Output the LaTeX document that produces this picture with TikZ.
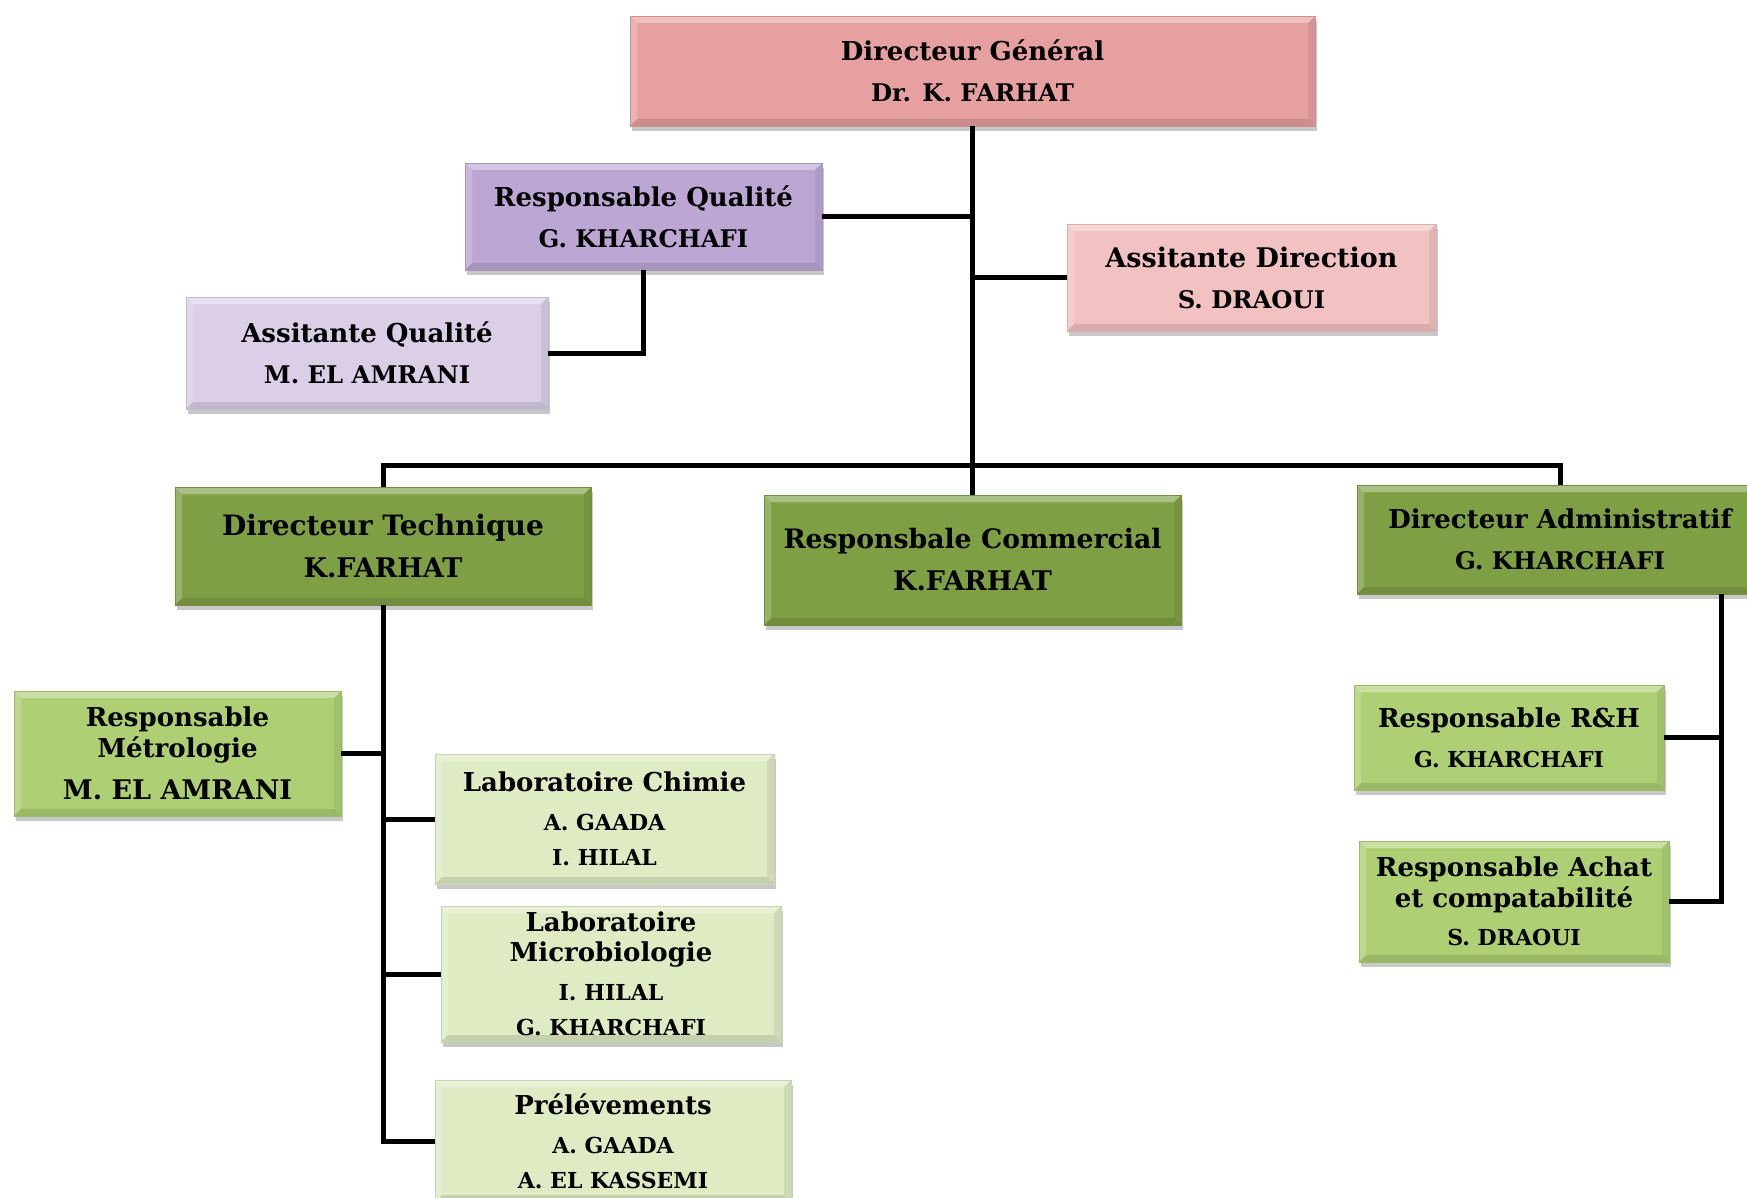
\documentclass[tikz,border=0pt]{standalone}
\usepackage{fontspec}
\setmainfont{DejaVu Serif}
\usetikzlibrary{shadows}
\definecolor{cDG}{HTML}{E5A09F}
\definecolor{cRQ}{HTML}{BCA7D4}
\definecolor{cAQ}{HTML}{DACFE7}
\definecolor{cAD}{HTML}{F2C2C2}
\definecolor{cDk}{HTML}{7F9F45}
\definecolor{cMd}{HTML}{AECF73}
\definecolor{cPl}{HTML}{DEEBC3}
\newcommand\fs[1]{\fontsize{#1}{35}\selectfont}
\tikzset{
  bevel/.style={path picture={
    \fill[white,opacity=.35] (path picture bounding box.north west) -- (path picture bounding box.north east) -- ([shift={(-7pt,-7pt)}]path picture bounding box.north east) -- ([shift={(7pt,-7pt)}]path picture bounding box.north west) -- cycle;
    \fill[white,opacity=.2] (path picture bounding box.north west) -- ([shift={(7pt,-7pt)}]path picture bounding box.north west) -- ([shift={(7pt,7pt)}]path picture bounding box.south west) -- (path picture bounding box.south west) -- cycle;
    \fill[black,opacity=.11] (path picture bounding box.south west) -- (path picture bounding box.south east) -- ([shift={(-7pt,7pt)}]path picture bounding box.south east) -- ([shift={(7pt,7pt)}]path picture bounding box.south west) -- cycle;
    \fill[black,opacity=.07] (path picture bounding box.north east) -- (path picture bounding box.south east) -- ([shift={(-7pt,7pt)}]path picture bounding box.south east) -- ([shift={(-7pt,-7pt)}]path picture bounding box.north east) -- cycle;
  }},
  box/.style={rectangle, draw=#1!90!black, line width=0.5pt, fill=#1, inner sep=0pt,
    align=center, font=\bfseries\fs{22},
    drop shadow={shadow xshift=2pt, shadow yshift=-5pt, opacity=0.3, fill=black!70},
    bevel},
  conn/.style={line width=5pt, draw=black},
}
\begin{document}
\begin{tikzpicture}[x=1pt,y=-1pt]
\useasboundingbox (0,0) rectangle (1747,1198);
\fill[white] (0,0) rectangle (1747,1198);

\node[box=cDG, minimum width=685pt, minimum height=110pt] (dg) at (972.5,71)
  {\fs{26}Directeur Général\\[6pt]\fs{24.3}Dr. K. FARHAT};
\node[box=cRQ, minimum width=357pt, minimum height=107pt] (rq) at (643.5,216.5)
  {\fs{26}Responsable Qualité\\[6pt]\fs{24.3}G. KHARCHAFI};
\node[box=cAD, minimum width=369pt, minimum height=107pt] (ad) at (1251.5,277.5)
  {\fs{27}Assitante Direction\\[6pt]\fs{24.3}S. DRAOUI};
\node[box=cAQ, minimum width=362pt, minimum height=112pt] (aq) at (367,353)
  {\fs{26}Assitante Qualité\\[6pt]\fs{24.3}M. EL AMRANI};

\node[box=cDk, minimum width=416pt, minimum height=118pt] (dt) at (383,546)
  {\fs{28}Directeur Technique\\[7pt]\fs{27}K.FARHAT};
\node[box=cDk, minimum width=417pt, minimum height=130pt] (rc) at (972.5,560)
  {\fs{26.7}Responsbale Commercial\\[7pt]\fs{27}K.FARHAT};
\node[box=cDk, minimum width=406pt, minimum height=109pt] (da) at (1560,539.5)
  {\fs{26}Directeur Administratif\\[6pt]\fs{24.3}G. KHARCHAFI};

\node[box=cMd, minimum width=327pt, minimum height=125pt] (rm) at (177.5,753.5)
  {\fs{26}Responsable\\[-4pt]\fs{26}Métrologie\\[7pt]\fs{27}M. EL AMRANI};
\node[box=cPl, minimum width=339pt, minimum height=130pt] (lc) at (604.5,819)
  {\fs{26}Laboratoire Chimie\\[4pt]\fs{22}A. GAADA\\\fs{22}I. HILAL};
\node[box=cPl, minimum width=340pt, minimum height=136pt] (lm) at (611,974)
  {\fs{26}Laboratoire\\[-5pt]\fs{26}Microbiologie\\[4pt]\fs{22}I. HILAL\\\fs{22}G. KHARCHAFI};
\node[box=cPl, minimum width=356pt, minimum height=122pt] (pr) at (613,1141)
  {\fs{26}Prélévements\\[4pt]\fs{22}A. GAADA\\\fs{22}A. EL KASSEMI};

\node[box=cMd, minimum width=310pt, minimum height=105pt] (rrh) at (1509,737.5)
  {\fs{26}Responsable R\&H\\[5pt]\fs{22}G. KHARCHAFI};
\node[box=cMd, minimum width=310pt, minimum height=121pt] (ra) at (1514,901.5)
  {\fs{26}Responsable Achat\\[-4pt]\fs{26}et compatabilité\\[3pt]\fs{22}S. DRAOUI};

\coordinate (bus) at (0,465);
\coordinate (dax) at (1721,0);

\draw[conn] (dg.south) -- (rc.north);
\draw[conn] (rq.east) -- (rq.east -| dg.south);
\draw[conn] (ad.west) -- (ad.west -| dg.south);
\draw[conn] (rq.south) -- (rq.south |- aq.east) -- (aq.east);
\draw[conn] (dt.north) -- (dt.north |- bus) -- (da.north |- bus) -- (da.north);
\draw[conn] (dt.south) -- (dt.south |- pr.west) -- (pr.west);
\draw[conn] (rm.east) -- (rm.east -| dt.south);
\draw[conn] (lc.west) -- (lc.west -| dt.south);
\draw[conn] (lm.west) -- (lm.west -| dt.south);
\draw[conn] (da.south -| dax) -- (ra.east -| dax) -- (ra.east);
\draw[conn] (rrh.east) -- (rrh.east -| dax);
\end{tikzpicture}
\end{document}
